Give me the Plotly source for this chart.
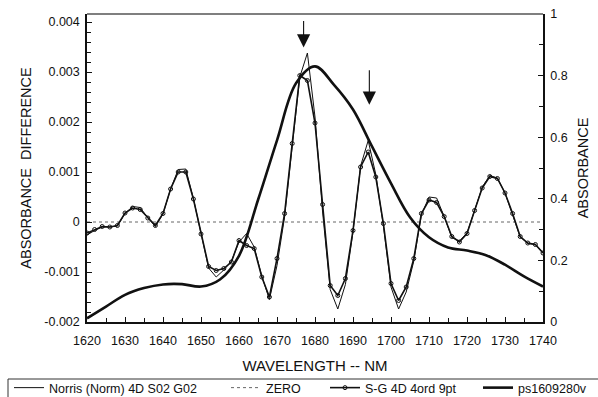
import plotly.graph_objects as go

# ---------------- data ----------------
wavelength = list(range(1620, 1741, 2))

sg_4d = [-0.00022, -0.00015, -0.00009, -0.00010, -0.00007, 0.00018, 0.00028, 0.00025,
         0.00008, -0.00007, 0.00017, 0.00066, 0.00100, 0.00100, 0.00046, -0.00024,
         -0.00089, -0.00097, -0.00093, -0.00080, -0.00037, -0.00047, -0.00053, -0.00110,
         -0.00150, -0.00073, 0.00017, 0.00157, 0.00293, 0.00283, 0.00198, 0.00035,
         -0.00127, -0.00147, -0.00113, -0.00017, 0.00110, 0.00140, 0.00090, -0.00003,
         -0.00123, -0.00157, -0.00130, -0.00073, 0.00017, 0.00044, 0.00039, 0.00011,
         -0.00029, -0.00040, -0.00023, 0.00023, 0.00068, 0.00091, 0.00087, 0.00058,
         0.00017, -0.00029, -0.00042, -0.00045, -0.00062]

norris_4d = [-0.00026, -0.00017, -0.00010, -0.00010, -0.00008, 0.00017, 0.00031, 0.00029,
             0.00008, -0.00009, 0.00016, 0.00066, 0.00105, 0.00106, 0.00047, -0.00024,
             -0.00092, -0.00110, -0.00096, -0.00078, -0.00040, -0.00023, -0.00050, -0.00108,
             -0.00155, -0.00087, 0.00010, 0.00150, 0.00290, 0.00338, 0.00210, 0.00020,
             -0.00135, -0.00174, -0.00125, -0.00020, 0.00112, 0.00163, 0.00095, -0.00008,
             -0.00130, -0.00174, -0.00140, -0.00078, 0.00014, 0.00050, 0.00048, 0.00011,
             -0.00031, -0.00038, -0.00022, 0.00023, 0.00070, 0.00093, 0.00088, 0.00058,
             0.00016, -0.00030, -0.00043, -0.00045, -0.00062]

zero_x = [1620, 1740]
zero_y = [0, 0]

abs_wavelength = list(range(1620, 1741, 5))
absorbance = [0.012, 0.050, 0.088, 0.110, 0.122, 0.123, 0.115, 0.138, 0.215, 0.396,
              0.590, 0.775, 0.830, 0.770, 0.690, 0.570, 0.450, 0.340, 0.275, 0.242,
              0.232, 0.217, 0.186, 0.148, 0.115]

left_tickvals = [-0.002, -0.001, 0, 0.001, 0.002, 0.003, 0.004]
left_ticktext = ["-0.002", "-0.001", "0", "0.001", "0.002", "0.003", "0.004"]
right_tickvals = [0, 0.2, 0.4, 0.6, 0.8, 1]
right_ticktext = ["0", "0.2", "0.4", "0.6", "0.8", "1"]

arrow_x = [1677, 1694.3]
arrow_tip_y = [0.00349, 0.002346]
arrow_len_px = [-28, -36]

FONT = "Liberation Sans, Arial, sans-serif"

fig = go.Figure()
fig.add_trace(go.Scatter(x=wavelength, y=norris_4d, mode="lines",
                         name="Norris (Norm) 4D S02 G02",
                         line=dict(color="#111111", width=1), legend="legend"))
fig.add_trace(go.Scatter(x=zero_x, y=zero_y, mode="lines", name="ZERO",
                         line=dict(color="#666666", width=1, dash="dot"), legend="legend2"))
fig.add_trace(go.Scatter(x=wavelength, y=sg_4d, mode="lines+markers",
                         name="S-G 4D 4ord 9pt",
                         line=dict(color="#111111", width=1.6),
                         marker=dict(symbol="circle-open", size=4, color="#111111",
                                     line=dict(width=1, color="#111111")),
                         legend="legend3"))
fig.add_trace(go.Scatter(x=abs_wavelength, y=absorbance, mode="lines", name="ps1609280v",
                         line=dict(color="#111111", width=2.6, shape="spline", smoothing=1.0),
                         yaxis="y2", legend="legend4"))

for ax_, ty, ln in zip(arrow_x, arrow_tip_y, arrow_len_px):
    fig.add_annotation(x=ax_, y=ty, xref="x", yref="y", ax=0, ay=ln, showarrow=True,
                       arrowhead=2, arrowsize=2.4, arrowwidth=1.1, arrowcolor="#111111",
                       text="")

L0, R0, T0, B0 = 87, 55, 14, 75
W, H = 598, 397
pw = W - L0 - R0
ph = H - T0 - B0


def px_to_paper_x(px):
    return (px - L0) / pw


def py_to_paper_y(py):
    return (H - B0 - py) / ph


legend_common = dict(orientation="h", yanchor="top", xanchor="left",
                     font=dict(family=FONT, size=12.5, color="#111111"),
                     bgcolor="rgba(0,0,0,0)", borderwidth=0, itemwidth=30)
legend_y = py_to_paper_y(373)
fig.update_layout(
    legend=dict(x=px_to_paper_x(9), y=legend_y, **legend_common),
    legend2=dict(x=px_to_paper_x(226), y=legend_y, **legend_common),
    legend3=dict(x=px_to_paper_x(325), y=legend_y, **legend_common),
    legend4=dict(x=px_to_paper_x(478), y=legend_y, **legend_common),
)

fig.add_shape(type="rect", xref="paper", yref="paper",
              x0=px_to_paper_x(8), x1=px_to_paper_x(605),
              y0=py_to_paper_y(379), y1=py_to_paper_y(405),
              line=dict(color="#333333", width=1), fillcolor="rgba(0,0,0,0)")
fig.add_shape(type="line", xref="paper", yref="paper", x0=0, x1=1, y0=1, y1=1,
              line=dict(color="#555555", width=1.5))

fig.update_layout(
    width=W, height=H,
    margin=dict(l=L0, r=R0, t=T0, b=B0, autoexpand=False),
    paper_bgcolor="white", plot_bgcolor="white",
    font=dict(family=FONT, size=12, color="#111111"),
    showlegend=True,
    xaxis=dict(range=[1620, 1740], dtick=10, tick0=1620, ticks="inside", ticklen=5,
               tickcolor="#111111", showline=True, linecolor="#111111", linewidth=1.5,
               showgrid=False, zeroline=False, automargin=False, ticklabelstandoff=6,
               minor=dict(dtick=5, ticks="inside", ticklen=4, tickcolor="#111111"),
               tickfont=dict(size=12.5),
               title=dict(text="WAVELENGTH -- NM", font=dict(size=15), standoff=14)),
    yaxis=dict(range=[-0.002, 0.00416], tickvals=left_tickvals, ticktext=left_ticktext,
               ticks="inside", ticklen=5, tickcolor="#111111", showline=True,
               linecolor="#111111", linewidth=1.5, showgrid=False, zeroline=False,
               automargin=False, ticklabelstandoff=3,
               minor=dict(dtick=0.0002, tick0=0, ticks="inside", ticklen=4, tickcolor="#111111"),
               tickfont=dict(size=12.5),
               title=dict(text="ABSORBANCE  DIFFERENCE", font=dict(size=14.5), standoff=9)),
    yaxis2=dict(range=[0, 1], tickvals=right_tickvals, ticktext=right_ticktext,
                overlaying="y", side="right", ticks="inside", ticklen=5,
                tickcolor="#111111", showline=True, linecolor="#111111", linewidth=1.5,
                showgrid=False, zeroline=False, automargin=False, ticklabelstandoff=3,
                minor=dict(dtick=0.1, ticks="inside", ticklen=4, tickcolor="#111111"),
                tickfont=dict(size=12.5),
                title=dict(text="ABSORBANCE", font=dict(size=14.5), standoff=11)),
)

fig.write_html("out.html", config={"displayModeBar": False},
               post_script="document.body.style.margin='0';document.body.style.overflow='hidden';")
